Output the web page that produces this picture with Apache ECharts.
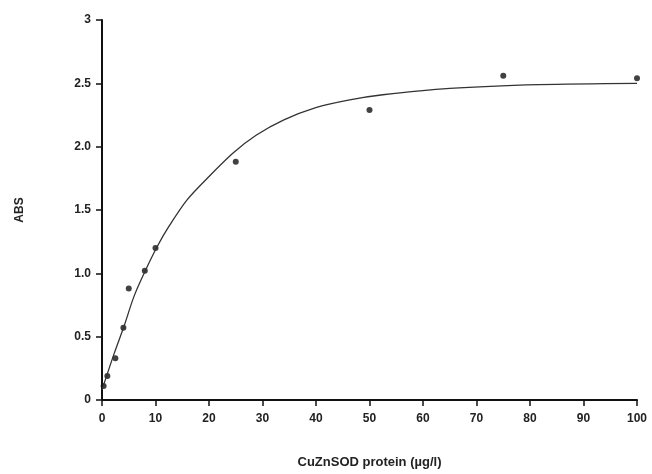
<!DOCTYPE html>
<html>
<head>
<meta charset="utf-8">
<script src="https://cdn.jsdelivr.net/npm/echarts@6/dist/echarts.min.js"></script>
<style>
  html, body { margin: 0; padding: 0; background: #fff; }
  #chart { width: 652px; height: 474px; }
</style>
</head>
<body>
<div id="chart"></div>
<script>
// measured points
var doseX = [0.3, 1, 2.5, 4, 5, 8, 10, 25, 50, 75, 100]
var absY = [0.11, 0.19, 0.33, 0.57, 0.88, 1.02, 1.2, 1.88, 2.29, 2.56, 2.54]
// fitted curve
var fitX = [0, 2.3, 4.1, 6, 8.2, 10.3, 12.5, 15.9, 19.9, 24.5, 28.8, 33.9, 40.1, 46.3, 52.5, 65, 81.7, 100]
var fitY = [0.08, 0.37, 0.58, 0.82, 1.03, 1.21, 1.37, 1.58, 1.76, 1.95, 2.09, 2.21, 2.31, 2.37, 2.41, 2.46, 2.49, 2.5]
var yTickLabels = ['0', '0.5', '1.0', '1.5', '2.0', '2.5', '3']

var chart = echarts.init(document.getElementById('chart'))
var labelFont = { color: '#222', fontFamily: 'Liberation Sans', fontWeight: 'bold', fontSize: 12 }

chart.setOption({
  animation: false,
  backgroundColor: '#fff',
  grid: { left: 102, right: 15, top: 20, bottom: 74 },
  xAxis: {
    type: 'value',
    min: 0, max: 100, interval: 10,
    name: 'CuZnSOD protein (µg/l)',
    nameLocation: 'middle',
    nameGap: 56,
    nameTextStyle: { color: '#222', fontFamily: 'Liberation Sans', fontWeight: 'bold', fontSize: 13 },
    axisLine: { lineStyle: { color: '#111', width: 2 } },
    axisTick: { inside: false, length: 6, lineStyle: { color: '#111', width: 1.5 } },
    axisLabel: Object.assign({ margin: 13 }, labelFont),
    splitLine: { show: false }
  },
  yAxis: {
    type: 'value',
    min: 0, max: 3, interval: 0.5,
    name: 'ABS',
    nameLocation: 'middle',
    nameGap: 76,
    nameRotate: 90,
    nameTextStyle: { color: '#222', fontFamily: 'Liberation Sans', fontWeight: 'bold', fontSize: 12 },
    axisLine: { show: true, lineStyle: { color: '#111', width: 2 } },
    axisTick: { show: true, length: 6, lineStyle: { color: '#111', width: 1.5 } },
    axisLabel: Object.assign({
      margin: 11,
      formatter: function(v) { return yTickLabels[Math.round(v / 0.5)] }
    }, labelFont),
    splitLine: { show: false }
  },
  series: [{
    type: 'line',
    data: fitX.map(function(x, i) { return [x, fitY[i]] }),
    smooth: 0.3,
    showSymbol: false,
    lineStyle: { color: '#333', width: 1.3 },
    silent: true
  }, {
    type: 'scatter',
    data: doseX.map(function(x, i) { return [x, absY[i]] }),
    symbol: 'circle',
    symbolSize: 6,
    itemStyle: { color: '#111' }
  }]
})
</script>
</body>
</html>
